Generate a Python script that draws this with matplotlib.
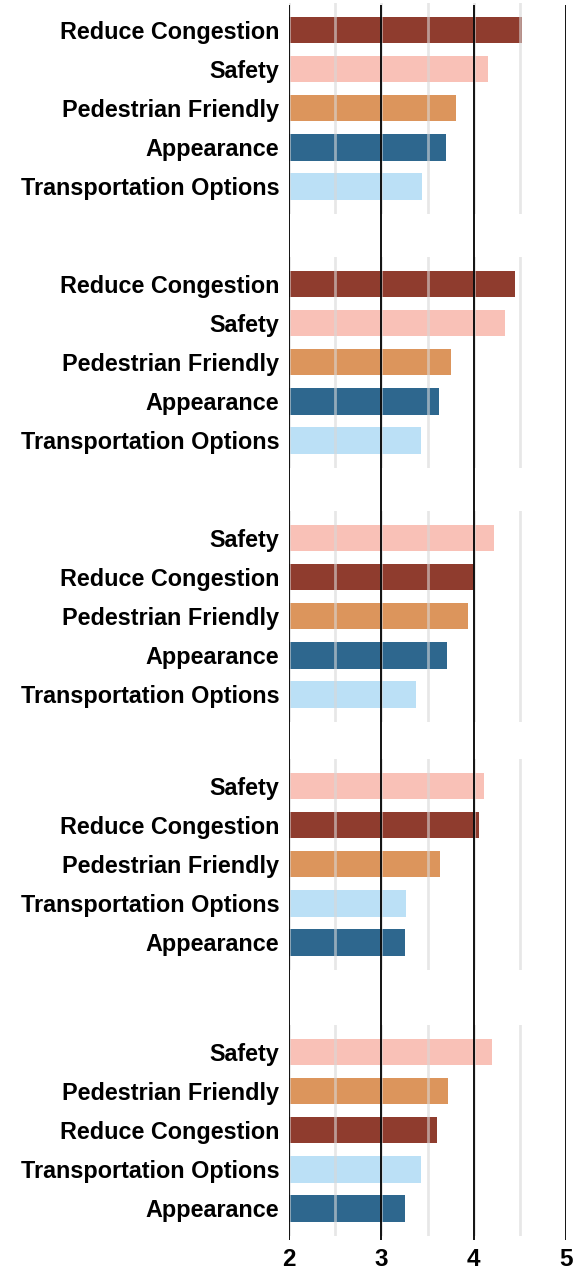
import matplotlib
matplotlib.use('Agg')
import matplotlib.pyplot as plt

# colours per category
colors = {
    'Reduce Congestion': '#8f3c2e',
    'Safety': '#f9c1b7',
    'Pedestrian Friendly': '#dc955c',
    'Appearance': '#2e678e',
    'Transportation Options': '#bbe0f6',
}

# one list of categories and values per panel, top to bottom
cats1 = ['Reduce Congestion', 'Safety', 'Pedestrian Friendly', 'Appearance', 'Transportation Options']
vals1 = [4.52, 4.15, 3.81, 3.70, 3.44]

cats2 = ['Reduce Congestion', 'Safety', 'Pedestrian Friendly', 'Appearance', 'Transportation Options']
vals2 = [4.45, 4.34, 3.75, 3.62, 3.43]

cats3 = ['Safety', 'Reduce Congestion', 'Pedestrian Friendly', 'Appearance', 'Transportation Options']
vals3 = [4.22, 4.00, 3.94, 3.71, 3.37]

cats4 = ['Safety', 'Reduce Congestion', 'Pedestrian Friendly', 'Transportation Options', 'Appearance']
vals4 = [4.11, 4.06, 3.63, 3.27, 3.25]

cats5 = ['Safety', 'Pedestrian Friendly', 'Reduce Congestion', 'Transportation Options', 'Appearance']
vals5 = [4.20, 3.72, 3.60, 3.43, 3.25]

xticks = [2, 3, 4, 5]
panels = [(cats1, vals1), (cats2, vals2), (cats3, vals3), (cats4, vals4), (cats5, vals5)]

W, H = 586, 1270
fig = plt.figure(figsize=(W / 100, H / 100), dpi=100)

x0, x1 = 289, 566.3          # pixel positions of 2 and 5
pitch = 39.1                 # pixels per bar slot
first_centres = [30, 284, 538, 786, 1052]
ylo, yhi = -0.7, 4.7

fontfam = ['Liberation Sans', 'DejaVu Sans']

for (cats, vals), c0 in zip(panels, first_centres):
    top = c0 - (0 - ylo) * pitch
    height = (yhi - ylo) * pitch
    ax = fig.add_axes([x0 / W, 1 - (top + height) / H, (x1 - x0) / W, height / H])
    ypos = list(range(len(cats)))
    ax.barh(ypos, [v - 2 for v in vals], left=2, height=0.68,
            color=[colors[c] for c in cats], zorder=1)
    for g in [2, 2.5, 3, 3.5, 4, 4.5]:
        ax.axvline(g, color='#d8d8d8', lw=2, alpha=0.6, zorder=2)
    ax.set_xlim(2, 5)
    ax.set_ylim(yhi, ylo)
    ax.set_yticks(ypos)
    ax.set_yticklabels(cats, fontsize=16.8, fontweight='bold', family=fontfam)
    ax.tick_params(axis='y', length=0, pad=7)
    ax.set_xticks([])
    for s in ax.spines.values():
        s.set_visible(False)
    ax.patch.set_alpha(0)

# black reference lines running through every panel
top_px, bot_px = 5, 1240
bg = fig.add_axes([x0 / W, 1 - bot_px / H, (x1 - x0) / W, (bot_px - top_px) / H], zorder=5)
bg.set_xlim(2, 5)
bg.set_ylim(0, 1)
for t in xticks:
    bg.axvline(t, color='black', lw=1.3)
bg.set_xticks(xticks)
bg.set_xticklabels([str(t) for t in xticks], fontsize=17.5, fontweight='bold', family=fontfam)
bg.tick_params(axis='x', length=0, pad=6)
bg.set_yticks([])
for s in bg.spines.values():
    s.set_visible(False)
bg.patch.set_alpha(0)

fig.savefig('out.png', dpi=100)
